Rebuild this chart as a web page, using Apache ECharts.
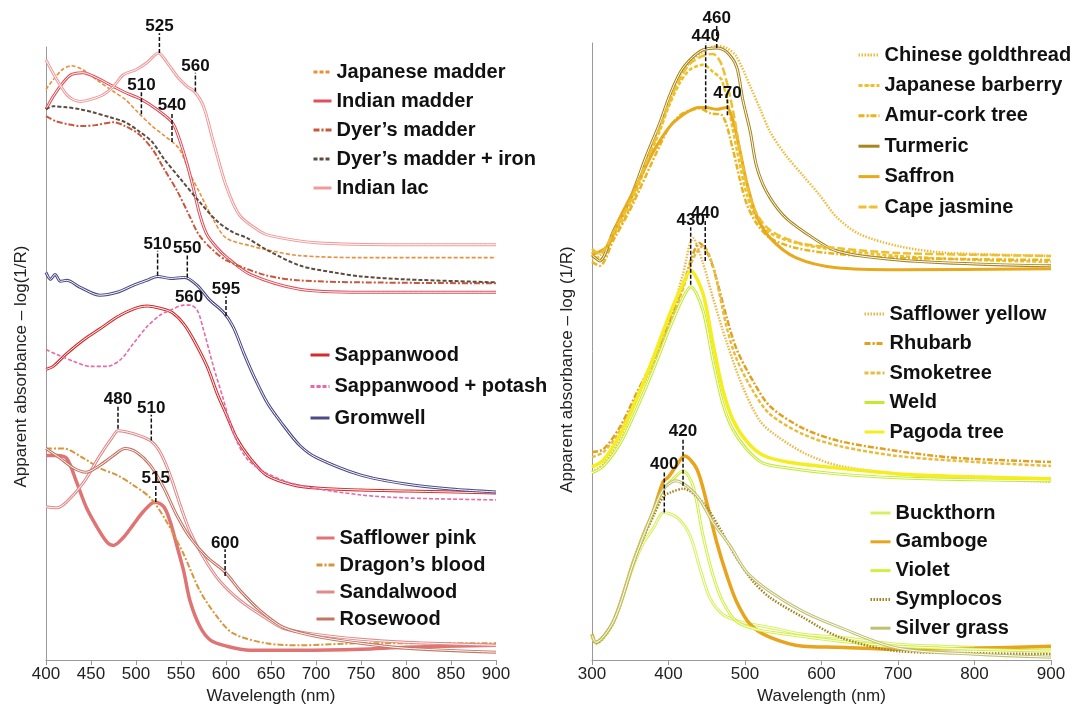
<!DOCTYPE html>
<html>
<head>
<meta charset="utf-8">
<title>Apparent absorbance spectra of dyes</title>
<script src="https://cdn.jsdelivr.net/npm/echarts@6/dist/echarts.min.js"></script>
<style>
  html, body { margin: 0; padding: 0; background: #fff; }
  #chart { width: 1077px; height: 710px; }
</style>
</head>
<body>
<div id="chart"></div>
<script>
// spectra: [wavelength nm, apparent absorbance] -- offset, arbitrary units (curves stacked)
// left panel: red / purple dyes
const japaneseMadder = [[400,577],[408,587],[418,597],[428,601],[441,597],[456,587],[475,575],[488,567],[502,554],[518,540],[532,530],[548,517],[561,490],[570,474],[585,447],[600,427],[627,419],[650,414],[682,409],[750,407],[900,407]]
const indianMadder = [[400,557],[408,570],[419,584],[428,592],[441,594],[456,589],[475,580],[488,574],[506,567],[523,557],[540,544],[547,530],[556,504],[563,480],[571,450],[579,430],[590,417],[600,408],[627,390],[682,375],[750,372],[900,372]]
const dyersMadder = [[400,550],[411,545],[424,542],[438,540],[455,541],[475,544],[488,540],[503,532],[518,517],[531,497],[546,474],[559,450],[570,430],[585,415],[601,404],[645,389],[682,384],[750,382],[900,381]]
const dyersMadderIron = [[400,557],[408,560],[423,559],[438,557],[452,554],[471,549],[488,544],[503,535],[518,524],[531,507],[549,487],[570,464],[590,444],[607,433],[623,427],[645,415],[682,399],[720,392],[750,388],[800,385],[900,382]]
const indianLac = [[400,607],[412,587],[425,570],[438,565],[450,567],[464,572],[475,580],[486,592],[500,597],[512,604],[525,614],[534,605],[546,590],[557,580],[565,575],[575,560],[586,524],[600,480],[615,450],[637,434],[650,429],[700,422],[800,420],[900,420]]
const sappanwood = [[400,294],[408,297],[423,310],[442,324],[460,335],[479,347],[497,355],[512,358],[530,355],[541,351],[553,340],[564,324],[579,297],[590,270],[601,247],[612,224],[627,204],[645,187],[675,177],[700,174],[750,172],[800,171],[900,169]]
const sappanwoodPotash = [[400,314],[412,309],[431,302],[449,297],[468,297],[483,304],[497,320],[512,337],[527,349],[541,355],[553,359],[560,359],[568,354],[575,334],[586,297],[597,264],[608,230],[623,204],[645,189],[680,177],[750,167],[800,164],[900,162]]
const gromwell = [[400,392],[405,385],[410,390],[416,383],[423,384],[438,377],[460,369],[479,372],[497,379],[512,384],[524,388],[538,386],[554,387],[568,379],[582,364],[597,352],[608,337],[620,310],[631,287],[646,260],[664,237],[682,217],[700,205],[750,187],[800,178],[850,173],[900,170]]
const safflowerPink = [[400,207],[412,207],[423,204],[434,180],[445,154],[457,134],[468,119],[475,116],[486,124],[497,137],[508,150],[521,160],[531,155],[538,140],[545,117],[553,90],[560,60],[571,34],[583,20],[601,14],[627,10],[682,10],[750,11],[800,13],[900,15]]
const dragonsBlood = [[400,214],[419,214],[442,204],[460,194],[479,187],[497,177],[516,164],[534,140],[553,107],[571,70],[590,44],[608,27],[645,17],[682,15],[750,17],[900,17]]
const sandalwood = [[400,155],[412,154],[423,160],[442,180],[460,207],[475,227],[480,232],[497,229],[516,222],[527,210],[538,187],[549,157],[560,130],[575,104],[593,80],[616,60],[645,42],[664,32],[700,26],[750,21],[800,18],[900,15]]
const rosewood = [[400,214],[416,204],[431,194],[444,190],[460,197],[475,207],[488,214],[501,210],[516,197],[531,174],[545,147],[560,124],[579,104],[599,89],[616,70],[638,50],[664,33],[700,24],[750,17],[800,12],[900,8]]

// right panel: yellow dyes
const chineseGoldthread = [[300,405],[310,408],[328,430],[350,462],[371,505],[389,540],[401,565],[415,590],[428,603],[445,614],[463,620],[476,618],[489,609],[507,579],[520,556],[533,533],[554,509],[576,489],[598,469],[620,447],[650,430],[700,418],[750,412],[800,410],[900,408]]
const japaneseBarberry = [[300,412],[310,404],[328,428],[350,458],[371,500],[389,535],[401,560],[415,583],[428,596],[445,601],[458,594],[470,585],[484,536],[493,501],[502,471],[515,446],[533,431],[567,421],[620,414],[700,408],[800,404],[900,402]]
const amurCork = [[300,402],[310,398],[328,424],[350,455],[371,490],[389,520],[401,538],[415,550],[428,555],[440,557],[455,552],[470,550],[484,516],[493,486],[502,461],[515,441],[533,426],[567,416],[620,410],[700,406],[900,404]]
const turmeric = [[300,409],[310,403],[328,433],[350,466],[371,509],[389,543],[401,569],[415,593],[428,606],[445,616],[463,618],[476,614],[489,599],[497,566],[507,533],[515,499],[528,473],[550,449],[576,433],[620,413],[700,404],[800,400],[900,398]]
const saffron = [[300,409],[320,418],[336,446],[358,479],[380,513],[402,539],[424,553],[440,558],[449,558],[463,556],[476,558],[484,546],[493,516],[502,483],[515,449],[533,426],[567,406],[620,396],[700,394],[900,395]]
const capeJasmine = [[300,415],[310,410],[328,432],[350,463],[371,503],[389,538],[401,563],[415,587],[428,602],[445,610],[458,612],[470,600],[484,556],[493,516],[502,481],[515,451],[533,434],[567,422],[620,416],[700,411],[900,408]]
const safflowerYellow = [[300,190],[315,198],[337,225],[358,262],[380,300],[402,345],[419,390],[432,426],[445,401],[458,366],[476,321],[497,276],[520,241],[542,226],[580,208],[624,196],[700,188],[800,183],[900,180]]
const rhubarb = [[300,210],[315,213],[337,236],[358,269],[380,303],[402,343],[419,378],[432,410],[440,421],[455,404],[476,346],[489,314],[511,281],[533,256],[576,234],[624,221],[700,211],[750,206],[800,203],[900,200]]
const smoketree = [[300,205],[315,210],[337,232],[358,265],[380,300],[402,340],[419,375],[432,405],[445,418],[458,398],[476,336],[489,304],[511,271],[533,248],[576,228],[624,216],[700,206],[800,200],[900,196]]
const weld = [[300,189],[315,196],[337,219],[358,253],[380,293],[402,336],[419,366],[429,377],[445,353],[458,303],[471,259],[484,233],[502,213],[523,199],[555,194],[620,188],[700,184],[800,182],[900,181]]
const pagodaTree = [[300,195],[315,202],[337,228],[358,263],[380,305],[402,350],[419,380],[429,393],[445,370],[458,320],[471,273],[484,243],[502,221],[523,207],[555,200],[620,194],[700,188],[800,185],[900,183]]
const buckthorn = [[300,26],[305,18],[328,39],[354,95],[367,118],[380,133],[394,149],[411,144],[428,126],[441,93],[454,63],[471,46],[497,38],[533,33],[576,26],[624,23],[700,16],[800,13],[900,11]]
const gamboge = [[300,26],[305,18],[328,39],[354,99],[367,126],[380,150],[393,180],[400,185],[410,196],[421,206],[437,193],[450,159],[463,119],[476,86],[489,59],[507,36],[533,23],[576,14],[620,13],[700,11],[800,12],[900,14]]
const violet = [[300,24],[305,17],[328,38],[354,98],[367,125],[380,148],[393,172],[405,182],[419,191],[432,176],[445,126],[458,86],[471,59],[489,39],[515,31],[555,26],[624,19],[700,14],[800,11],[900,9]]
const symplocos = [[300,25],[305,17],[328,38],[354,97],[367,123],[380,145],[393,165],[402,169],[419,173],[445,159],[467,133],[489,103],[511,79],[533,63],[576,43],[624,23],[700,9],[800,7],[900,6]]
const silverGrass = [[300,25],[305,18],[328,39],[354,98],[367,125],[380,150],[393,172],[409,181],[437,166],[458,139],[480,116],[502,89],[533,69],[576,49],[624,33],[700,12],[800,6],[900,3]]

// peak markers: [wavelength, from, to, label]
const leftMarks = [[526,614,634,'525'],[566,575,594,'560'],[506,552,575,'510'],[540,524,554,'540'],
  [524,389,414,'510'],[557,387,410,'550'],[600,348,368,'595'],[559,360,360,'560'],
  [480,234,257,'480'],[517,222,248,'510'],[522,160,177,'515'],[599,85,112,'600']]
const rightMarks = [[463,618,641,'460'],[448.6,556,623,'440'],[477,550,566,'470'],
  [429,379,437,'430'],[448,403,444,'440'],[419,176,224,'420'],[394.5,149,191,'400']]

const FONT = 'Liberation Sans'
const DOT = [1.5, 1.5]
const DASH = [4, 2]
const DASHDOT = [6, 2, 2, 2]
const LONGDASH = [8, 3]

const series = []
// double lines (outlined in the original) get a thin white core
function addLine(grid, name, data, color, opt) {
  opt = opt || {}
  series.push({
    name: name, type: 'line', xAxisIndex: grid, yAxisIndex: grid,
    data: data, smooth: 0.3, symbol: 'none',
    lineStyle: { color: color, width: opt.width || 1.6, type: opt.type || 'solid' },
    itemStyle: { color: color }
  })
  if (opt.double) {
    series.push({
      type: 'line', xAxisIndex: grid, yAxisIndex: grid, silent: true,
      data: data, smooth: 0.3, symbol: 'none',
      lineStyle: { color: '#fff', width: 1 }
    })
  }
}

addLine(0, 'Japanese madder', japaneseMadder, '#e8903c', { type: DASH })
addLine(0, 'Indian madder', indianMadder, '#e0505a', { width: 3, double: true })
addLine(0, 'Dyer\u2019s madder', dyersMadder, '#c8583c', { type: DASHDOT, width: 2 })
addLine(0, 'Dyer\u2019s madder + iron', dyersMadderIron, '#5c4c40', { type: DASH, width: 2 })
addLine(0, 'Indian lac', indianLac, '#f09a9a', { width: 3, double: true })
addLine(0, 'Sappanwood', sappanwood, '#d42c2c', { width: 3, double: true })
addLine(0, 'Sappanwood + potash', sappanwoodPotash, '#e66aa6', { type: DASH })
addLine(0, 'Gromwell', gromwell, '#4c4a88', { width: 3, double: true })
addLine(0, 'Safflower pink', safflowerPink, '#e07474', { width: 3.5 })
addLine(0, 'Dragon\u2019s blood', dragonsBlood, '#d8963c', { type: DASHDOT, width: 2 })
addLine(0, 'Sandalwood', sandalwood, '#e08a8a', { width: 3, double: true })
addLine(0, 'Rosewood', rosewood, '#c47462', { width: 3, double: true })

addLine(1, 'Chinese goldthread', chineseGoldthread, '#eebc3c', { type: DOT, width: 2.5 })
addLine(1, 'Japanese barberry', japaneseBarberry, '#ecc028', { type: DASH, width: 2.5 })
addLine(1, 'Amur-cork tree', amurCork, '#e8b420', { type: DASHDOT, width: 2.5 })
addLine(1, 'Turmeric', turmeric, '#a8861c', { width: 3, double: true })
addLine(1, 'Saffron', saffron, '#e8aa1c', { width: 3 })
addLine(1, 'Cape jasmine', capeJasmine, '#eec030', { type: LONGDASH, width: 2.5 })
addLine(1, 'Safflower yellow', safflowerYellow, '#ecb848', { type: DOT, width: 2.5 })
addLine(1, 'Rhubarb', rhubarb, '#e0a020', { type: DASHDOT, width: 2.5 })
addLine(1, 'Smoketree', smoketree, '#e8bc40', { type: DASH, width: 2.5 })
addLine(1, 'Weld', weld, '#c4ea30', { width: 3, double: true })
addLine(1, 'Pagoda tree', pagodaTree, '#f4ee20', { width: 3.5 })
addLine(1, 'Buckthorn', buckthorn, '#d8f060', { width: 3, double: true })
addLine(1, 'Gamboge', gamboge, '#e8a41c', { width: 3.5 })
addLine(1, 'Violet', violet, '#d0f040', { width: 3, double: true })
addLine(1, 'Symplocos', symplocos, '#a8801c', { type: DOT, width: 2.5 })
addLine(1, 'Silver grass', silverGrass, '#c0c070', { width: 3, double: true })

function addMarks(grid, list) {
  series.push({
    type: 'custom', xAxisIndex: grid, yAxisIndex: grid, clip: false, silent: true, z: 10,
    data: list.map(m => [m[0], m[1], m[2]]),
    renderItem: function (params, api) {
      const m = list[params.dataIndex]
      const lo = api.coord([m[0], m[1]])
      const hi = api.coord([m[0], m[2]])
      const children = []
      if (m[2] > m[1]) {
        children.push({ type: 'line', shape: { x1: lo[0], y1: lo[1], x2: hi[0], y2: hi[1] },
          style: { stroke: '#111', lineWidth: 1.5, lineDash: [4, 2] } })
      }
      children.push({ type: 'text', x: hi[0], y: hi[1] + 2,
        style: { text: m[3], fill: '#111', font: 'bold 17px "' + FONT + '"', align: 'center', verticalAlign: 'bottom' } })
      return { type: 'group', children: children }
    }
  })
}
addMarks(0, leftMarks)
addMarks(1, rightMarks)

// itemHeight kept tiny so the legend's line icon shows no visible symbol dot
function legend(names, left, top, gap, w) {
  return {
    data: names, orient: 'vertical', left: left, top: top, itemGap: gap,
    itemWidth: w, itemHeight: 2, selectedMode: false, padding: 0,
    lineStyle: { width: 3 },
    textStyle: { fontSize: 20, fontWeight: 'bold', color: '#111', fontFamily: FONT, lineHeight: 22 }
  }
}

function xAxis(grid, min, max, step) {
  return {
    gridIndex: grid, type: 'value', min: min, max: max, interval: step,
    name: 'Wavelength (nm)', nameLocation: 'middle', nameGap: 23,
    nameTextStyle: { fontSize: 17, color: '#222', fontFamily: FONT },
    axisLine: { lineStyle: { color: '#999' } },
    axisTick: { length: 5, lineStyle: { color: '#999' } },
    axisLabel: { fontSize: 17, color: '#222', margin: 6, fontFamily: FONT },
    splitLine: { show: false }
  }
}

function yAxis(grid, max, label, shift) {
  return {
    gridIndex: grid, type: 'value', min: 0, max: max,
    name: label, nameLocation: 'middle', nameGap: 16,
    nameTextStyle: { fontSize: 17, color: '#222', fontFamily: FONT, padding: [0, shift, 0, 0] },
    axisLine: { show: true, lineStyle: { color: '#999' } },
    axisTick: { show: false }, axisLabel: { show: false }, splitLine: { show: false }
  }
}

const chart = echarts.init(document.getElementById('chart'))
chart.setOption({
  animation: false,
  backgroundColor: '#fff',
  textStyle: { fontFamily: FONT },
  grid: [
    { left: 46, top: 47, width: 450, height: 620 },
    { left: 592, top: 43, width: 459, height: 623 }
  ],
  xAxis: [xAxis(0, 400, 900, 50), xAxis(1, 300, 900, 100)],
  yAxis: [yAxis(0, 620, 'Apparent absorbance \u2013 log(1/R)', 26), yAxis(1, 623, 'Apparent absorbance \u2013 log (1/R)', 36)],
  legend: [
    legend(['Japanese madder', 'Indian madder', 'Dyer\u2019s madder', 'Dyer\u2019s madder + iron', 'Indian lac'], 312, 61, 7, 18),
    legend(['Sappanwood', 'Sappanwood + potash', 'Gromwell'], 309, 344, 9.5, 19),
    legend(['Safflower pink', 'Dragon\u2019s blood', 'Sandalwood', 'Rosewood'], 315, 527, 5, 18),
    legend(['Chinese goldthread', 'Japanese barberry', 'Amur-cork tree', 'Turmeric', 'Saffron', 'Cape jasmine'], 857, 44, 8.4, 21),
    legend(['Safflower yellow', 'Rhubarb', 'Smoketree', 'Weld', 'Pagoda tree'], 863, 303, 7.5, 20),
    legend(['Buckthorn', 'Gamboge', 'Violet', 'Symplocos', 'Silver grass'], 869, 502, 6.8, 20)
  ],
  series: series
})
</script>
</body>
</html>
